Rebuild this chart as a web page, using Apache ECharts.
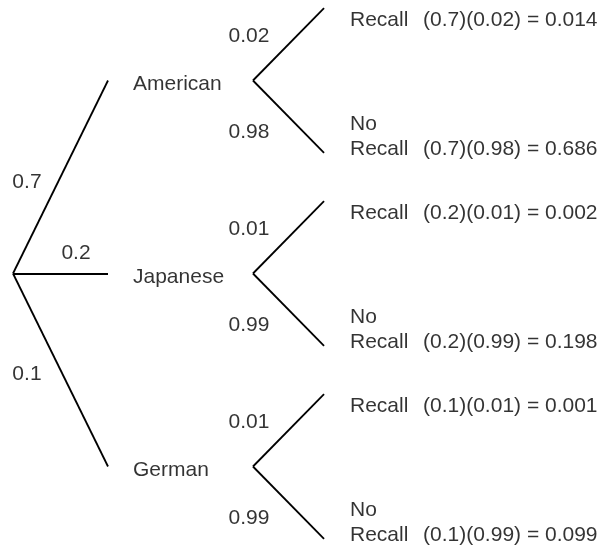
<!DOCTYPE html>
<html>
<head>
<meta charset="utf-8">
<script src="https://cdn.jsdelivr.net/npm/echarts@6/dist/echarts.min.js"></script>
<style>
  html, body { margin: 0; padding: 0; background: #fff; }
  #chart { width: 616px; height: 546px; }
</style>
</head>
<body>
<div id="chart"></div>
<script>
// ---- Data ----
const makers = ['American', 'Japanese', 'German'];
const makerProbs = [0.7, 0.2, 0.1];
const recallProbs = [0.02, 0.01, 0.01];
const noRecallProbs = [0.98, 0.99, 0.99];
const recallJoint = [0.014, 0.002, 0.001];
const noRecallJoint = [0.686, 0.198, 0.099];
const outcomeRecall = 'Recall';
const outcomeNo = 'No';

// ---- Layout (structural units) ----
const L = {
  rootX: 0, branchX: 1, labelX: 1.263, nodeX: 2.526, leafX: 3.274,
  textX: 3.547, formulaX: 4.316, leafDy: 0.375, rootY: 1,
  pxX: 95, pxY: 193, x0: 13, y0: 80.5
};

const segs = [];
makers.forEach((m, g) => {
  segs.push({ coords: [[L.rootX, L.rootY], [L.branchX, g]] });
  segs.push({ coords: [[L.nodeX, g], [L.leafX, g - L.leafDy]] });
  segs.push({ coords: [[L.nodeX, g], [L.leafX, g + L.leafDy]] });
});

const fmt = v => String(v);
const texts = [];
function addText(x, y, text, align, dy) {
  texts.push({ value: [x, y], name: text, label: { align: align || 'left', offset: [0, dy == null ? 2 : dy] } });
}
// first-level probability labels
const lvl1Pos = [[0.147, 0.516], [0.663, 0.883], [0.147, 1.51]];
makerProbs.forEach((p, g) => addText(lvl1Pos[g][0], lvl1Pos[g][1], fmt(p), 'center'));
makers.forEach((m, g) => {
  addText(L.labelX, g, m, 'left', 4);
  addText(2.484, g - 0.238, fmt(recallProbs[g]), 'center');
  addText(2.484, g + 0.256, fmt(noRecallProbs[g]), 'center');
  const p = makerProbs[g];
  addText(L.textX, g - 0.322, outcomeRecall, 'left');
  addText(L.formulaX, g - 0.322, '(' + p + ')(' + recallProbs[g] + ') = ' + recallJoint[g].toFixed(3), 'left');
  addText(L.textX, g + 0.215, outcomeNo, 'left');
  addText(L.textX, g + 0.345, outcomeRecall, 'left');
  addText(L.formulaX, g + 0.345, '(' + p + ')(' + noRecallProbs[g] + ') = ' + noRecallJoint[g].toFixed(3), 'left');
});

const chart = echarts.init(document.getElementById('chart'), null, { renderer: 'canvas' });
chart.setOption({
  animation: false,
  backgroundColor: '#fff',
  grid: { left: 0, right: 0, top: 0, bottom: 0 },
  xAxis: { type: 'value', show: false, min: -L.x0 / L.pxX, max: (616 - L.x0) / L.pxX },
  yAxis: { type: 'value', show: false, inverse: true, min: -L.y0 / L.pxY, max: (546 - L.y0) / L.pxY },
  series: [
    {
      type: 'lines',
      coordinateSystem: 'cartesian2d',
      silent: true,
      clip: false,
      lineStyle: { color: '#000', width: 1.8, opacity: 1 },
      data: segs
    },
    {
      type: 'scatter',
      symbolSize: 0,
      silent: true,
      clip: false,
      label: {
        show: true,
        position: 'inside',
        verticalAlign: 'middle',
        formatter: p => p.name,
        color: '#000',
        fontFamily: 'Liberation Sans, Arial, sans-serif',
        fontSize: 21
      },
      data: texts
    }
  ]
});
</script>
</body>
</html>
